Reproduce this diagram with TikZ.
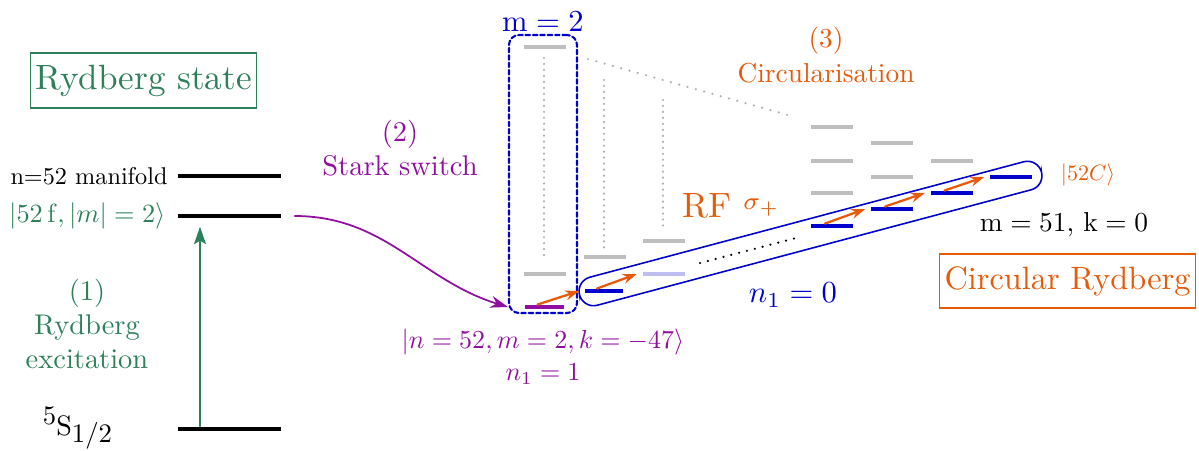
\documentclass[tikz,border=0pt]{standalone}
\usetikzlibrary{arrows.meta}

\definecolor{rydgreen}{RGB}{46,128,90}
\definecolor{starkpurple}{RGB}{145,15,160}
\definecolor{circorange}{RGB}{230,90,10}
\definecolor{nblue}{RGB}{0,0,205}
\definecolor{levgrey}{RGB}{190,190,190}
\definecolor{dotgrey}{RGB}{175,175,175}
\definecolor{levlilac}{RGB}{190,190,240}

\begin{document}
\begin{tikzpicture}[
    line cap=round,
    every node/.style={font=\normalsize},
    lev/.style={fill=#1, inner sep=0pt, minimum width=0.42cm, minimum height=1pt},
    lev/.default=levgrey,
    blacklev/.style={lev=black, minimum width=1.03cm, minimum height=1.1pt},
    titlebox/.style={draw, line width=0.4pt, inner xsep=1.3pt},
    rfarrow/.style={-{Stealth[length=4pt,width=2.8pt]}, circorange, line width=0.65pt},
    greydots/.style={dotgrey, line width=0.7pt, dash pattern=on 0pt off 1.7pt},
]
\useasboundingbox (0,0) rectangle (11.99,4.5);

% (1) Rydberg excitation
\node[titlebox, rydgreen, minimum height=0.45cm] (rydbox) at (1.435,3.695) {Rydberg state};
\node[blacklev] (manif) at (2.295,2.74) {};
\node[blacklev] (fstate) at (2.295,2.34) {};
\node[blacklev] (ground) at (2.295,0.21) {};
\node[anchor=east, inner sep=0pt, scale=0.69] (maniflab) at (1.68,2.74) {n=52 manifold};
\node[anchor=east, inner sep=0pt, rydgreen, scale=0.75] (flab) at (1.66,2.34) {$|52\,\mathrm{f},|m|=2\rangle$};
\node[anchor=base, inner sep=0pt, scale=0.8] (gslab) at (0.775,0.15)
    {\raisebox{3.6pt}{\fontsize{9.5}{11}\selectfont 5}S\raisebox{-2.5pt}{\fontsize{9.5}{11}\selectfont 1/2}};
\node[rydgreen, align=center, scale=0.81] (exclab) at (0.87,1.26) {(1)\\Rydberg\\excitation};
\draw[-{Stealth[length=5pt,width=3.4pt,inset=1pt]}, rydgreen, line width=0.4pt]
    ([xshift=-2.95mm]ground.north) -- ([xshift=-2.95mm,yshift=-0.8mm]fstate.south);

% (2) Stark switch
\node[draw=nblue, line width=0.6pt, dash pattern=on 1.3pt off 0.8pt, rounded corners=1mm,
    minimum width=0.68cm, minimum height=2.78cm] (m2box) at (5.43,2.76) {};
\node[nblue, scale=0.87] (m2lab) at (5.43,4.28) {$\mathrm{m}=2$};
\node[starkpurple, align=center, scale=0.81] (starklab) at (4.00,3.015) {(2)\\Stark switch};
\node[lev=starkpurple, minimum width=0.39cm] (l1) at (5.445,1.43) {};
\node[starkpurple, align=center, scale=0.74] (statelab) at (5.43,0.935)
    {$|n=52,m=2,k=-47\rangle$\\[0.5pt]$n_1=1$};
\draw[-{Stealth[length=5pt,width=3.4pt]}, starkpurple, line width=0.5pt]
    ([xshift=1.3mm]fstate.east) to[out=0,in=163] (l1 -| m2box.west);

% grey levels of the manifold
\foreach \x/\y [count=\i] in {5.445/4.03, 5.445/1.76, 6.045/1.93, 6.635/2.09,
    8.32/3.23, 8.32/2.89, 8.32/2.57, 8.92/3.07, 8.92/2.73, 9.515/2.89}
    \node[lev] (grey\i) at (\x,\y) {};
\draw[greydots] (5.44,3.92) -- (5.44,1.92);
\draw[greydots] (6.04,3.70) -- (6.04,2.01);
\draw[greydots] (6.63,3.50) -- (6.63,2.20);
\draw[greydots, dash pattern=on 0pt off 2.45pt] (5.88,3.91) -- (7.95,3.33);

% (3) Circularisation
\node[circorange, align=center, scale=0.78] (circlab) at (8.26,3.95) {(3)\\[1pt]Circularisation};
\node[lev=nblue, minimum width=0.38cm] (l2) at (6.04,1.59) {};
\node[lev=levlilac] (l3) at (6.635,1.76) {};
\node[lev=nblue] (l4) at (8.32,2.24) {};
\node[lev=nblue] (l5) at (8.92,2.41) {};
\node[lev=nblue] (l6) at (9.515,2.57) {};
\node[lev=nblue] (l7) at (10.11,2.73) {};
\draw[line width=0.7pt, dash pattern=on 0pt off 2.3pt] (7.00,1.87) -- (8.00,2.13);
\node[draw=nblue, line width=0.45pt, rounded corners=0.145cm, minimum width=4.78cm,
    minimum height=0.29cm, rotate=14.9] (pill) at (8.105,2.165) {};
\foreach \a/\b in {l1/l2, l2/l3, l4/l5, l5/l6, l6/l7}
    \draw[rfarrow] ([xshift=-0.7mm]\a.north) -- ([xshift=-0.5mm]\b.west);

\node[anchor=base west, inner sep=0pt, circorange] (rflab) at (6.82,2.33)
    {RF \raisebox{2pt}{\scriptsize$\sigma_+$}};
\node[nblue, scale=0.87] (n0lab) at (7.93,1.55) {$n_1=0$};
\node[circorange, scale=0.63] (c52lab) at (10.88,2.75) {$|52C\rangle$};
\node[scale=0.78] (m51lab) at (10.64,2.25) {$\mathrm{m}=51$, $\mathrm{k}=0$};
\node[titlebox, circorange, scale=0.92, inner xsep=1.5pt, minimum height=0.587cm] (circbox) at (10.675,1.69) {Circular Rydberg};

\end{tikzpicture}
\end{document}
